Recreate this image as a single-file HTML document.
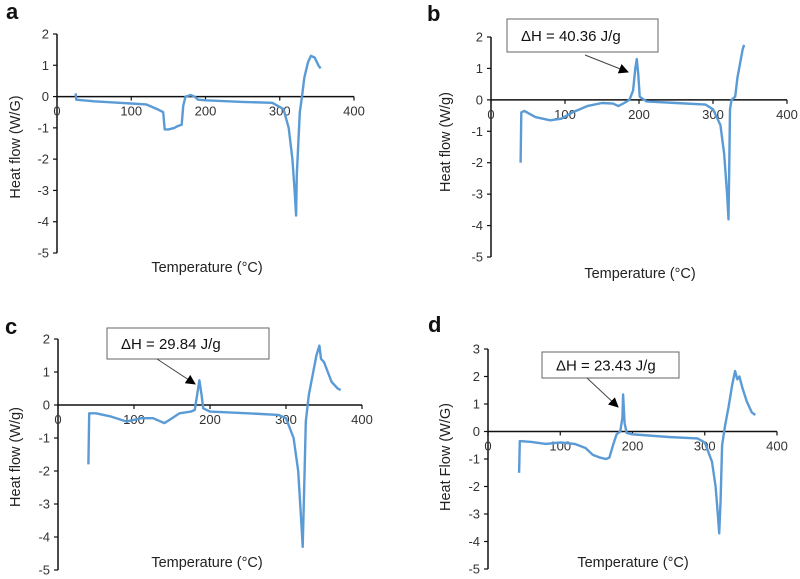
<!DOCTYPE html>
<html><head><meta charset="utf-8">
<style>
html,body{margin:0;padding:0;background:#fff;}
svg{display:block;font-family:"Liberation Sans",sans-serif;}
</style></head>
<body>
<svg id="fig" width="800" height="579" viewBox="0 0 800 579" xmlns="http://www.w3.org/2000/svg"></svg>
<script>
// ---- data ----
const xTicks = [0, 100, 200, 300, 400];
const yTicksA = [2, 1, 0, -1, -2, -3, -4, -5];
const yTicksD = [3, 2, 1, 0, -1, -2, -3, -4, -5];

const tempA = [25,26,50,100,120,135,143,145,150,158,162,168,170,173,180,185,190,200,250,290,305,312,317,320,322,323,325,327,330,333,338,342,347,352,355];
const heatA = [0.1,-0.1,-0.15,-0.22,-0.25,-0.4,-0.5,-1.05,-1.05,-1.0,-0.95,-0.9,-0.3,0,0.05,0,-0.1,-0.12,-0.17,-0.2,-0.4,-1,-2,-3,-3.8,-2.5,-1.5,-0.5,0,0.6,1.1,1.3,1.25,1.0,0.9];

const tempB = [40,41,45,60,80,95,110,130,150,165,172,180,187,192,195,197,199,201,210,250,290,300,310,315,319,321,322,323,325,330,333,340,342];
const heatB = [-2,-0.4,-0.35,-0.55,-0.65,-0.6,-0.4,-0.2,-0.1,-0.12,-0.2,-0.1,0,0.3,1.0,1.3,0.8,0.1,-0.05,-0.1,-0.15,-0.3,-0.8,-1.7,-3,-3.8,-2,-0.3,0,0.1,0.7,1.6,1.75];

const tempC = [40,41,50,70,90,110,125,140,150,160,175,180,183,186,189,191,200,250,290,300,310,316,320,322,324,326,330,335,340,344,346,350,355,360,368,372];
const heatC = [-1.8,-0.25,-0.25,-0.35,-0.5,-0.4,-0.4,-0.55,-0.4,-0.25,-0.2,-0.15,0.3,0.75,0.3,-0.1,-0.2,-0.25,-0.3,-0.4,-1,-2,-3.5,-4.3,-2.5,-0.5,0.3,0.9,1.5,1.8,1.4,1.3,1.0,0.7,0.5,0.45];

const tempD = [43,44,60,80,100,120,135,145,155,163,168,173,178,183,186,187,189,192,200,250,290,300,310,315,318,320,322,324,328,333,338,342,345,348,352,358,365,370];
const heatD = [-1.5,-0.35,-0.38,-0.45,-0.4,-0.45,-0.6,-0.85,-0.95,-1.0,-0.95,-0.5,-0.1,0,0.5,1.35,0.3,-0.05,-0.1,-0.2,-0.25,-0.4,-1.1,-2,-3,-3.7,-2.5,-0.5,0.2,0.9,1.7,2.2,1.9,2.0,1.6,1.1,0.7,0.6];

const NS = "http://www.w3.org/2000/svg";
const svg = document.getElementById('fig');
function mk(tag, attrs, parent, text){
  const e = document.createElementNS(NS, tag);
  for (const k in attrs) e.setAttribute(k, attrs[k]);
  if (text !== undefined) e.textContent = text;
  (parent || svg).appendChild(e);
  return e;
}

const panels = [
  {id:'a', x0:57, x400:354, yTop:34, yBot:253, yMax:2, yTicks:yTicksA, T:tempA, H:heatA,
   letter:[6,19], ytitle:'Heat flow (W/G)', yt:[16,147], xt:[207,272]},
  {id:'b', x0:491, x400:787, yTop:37, yBot:257, yMax:2, yTicks:yTicksA, T:tempB, H:heatB,
   letter:[427,21], ytitle:'Heat flow (W/g)', yt:[446,142], xt:[640,278],
   box:[507,19,151,33,'ΔH = 40.36 J/g'], arrow:[585,55,628,72]},
  {id:'c', x0:58, x400:362, yTop:339, yBot:570, yMax:2, yTicks:yTicksA, T:tempC, H:heatC,
   letter:[5,334], ytitle:'Heat flow (W/g)', yt:[16,457], xt:[207,567],
   box:[107,328,162,31,'ΔH = 29.84 J/g'], arrow:[157,359,195,384]},
  {id:'d', x0:488, x400:777, yTop:349, yBot:569, yMax:3, yTicks:yTicksD, T:tempD, H:heatD,
   letter:[428,332], ytitle:'Heat Flow (W/G)', yt:[446,457], xt:[633,567],
   box:[542,352,137,26,'ΔH = 23.43 J/g'], arrow:[587,378,618,407]}
];

mk('defs',{}).innerHTML = '<marker id="ah" markerWidth="10" markerHeight="10" refX="9" refY="5" orient="auto" markerUnits="userSpaceOnUse"><path d="M0,0 L10,5 L0,10 z" fill="#000"/></marker>';

panels.forEach(p => {
  const g = mk('g', {});
  
  
  const yMin = -5;
  const sx = t => p.x0 + (p.x400 - p.x0) * t / 400;
  const sy = v => p.yTop + (p.yMax - v) * (p.yBot - p.yTop) / (p.yMax - yMin);
  const y0 = sy(0);

  const lt = mk('text', {x:p.letter[0], y:p.letter[1], 'font-size':22, 'font-weight':'bold', fill:'#111'}, g, p.id);
  
  

  // y axis
  const ya = mk('line', {x1:p.x0, y1:sy(p.yMax), x2:p.x0, y2:sy(yMin), stroke:'#111', 'stroke-width':1.5}, g);
  
  
  p.yTicks.forEach(v => {
    mk('line', {x1:p.x0-4, y1:sy(v), x2:p.x0, y2:sy(v), stroke:'#111', 'stroke-width':1.2}, g);
    const t = mk('text', {x:p.x0-8, y:sy(v)+4.5, 'font-size':13, 'text-anchor':'end', fill:'#333'}, g, String(v));
    
    
  });
  // x axis at zero
  const xa = mk('line', {x1:p.x0, y1:y0, x2:sx(400), y2:y0, stroke:'#111', 'stroke-width':1.5}, g);
  
  
  xTicks.forEach(v => {
    mk('line', {x1:sx(v), y1:y0, x2:sx(v), y2:y0+4, stroke:'#111', 'stroke-width':1.2}, g);
    const t = mk('text', {x:sx(v), y:y0+19, 'font-size':13, 'text-anchor':'middle', fill:'#333'}, g, String(v));
    
    
  });

  // series
  const d = p.T.map((t,i) => (i?'L':'M') + sx(t).toFixed(1) + ',' + sy(p.H[i]).toFixed(1)).join(' ');
  const path = mk('path', {d:d, fill:'none', stroke:'#5b9bd5', 'stroke-width':2.4, 'stroke-linejoin':'round'}, g);
  
  

  // titles
  const yt = mk('text', {x:p.yt[0], y:p.yt[1], 'font-size':14.5, 'text-anchor':'middle', fill:'#222', transform:'rotate(-90 '+p.yt[0]+' '+p.yt[1]+')', 'dominant-baseline':'middle'}, g, p.ytitle);
  
  
  const xt = mk('text', {x:p.xt[0], y:p.xt[1], 'font-size':14.5, 'text-anchor':'middle', fill:'#222'}, g, 'Temperature (°C)');
  
  

  if (p.box) {
    const b = p.box;
    const r = mk('rect', {x:b[0], y:b[1], width:b[2], height:b[3], fill:'#fff', stroke:'#666', 'stroke-width':1}, g);
    
    
    const t = mk('text', {x:b[0]+14, y:b[1]+b[3]/2+5.5, 'font-size':15, fill:'#111'}, g, b[4]);
    
    
    const a = p.arrow;
    const ar = mk('line', {x1:a[0], y1:a[1], x2:a[2], y2:a[3], stroke:'#444', 'stroke-width':1, 'marker-end':'url(#ah)'}, g);
    
    
  }
});
</script>
</body></html>
